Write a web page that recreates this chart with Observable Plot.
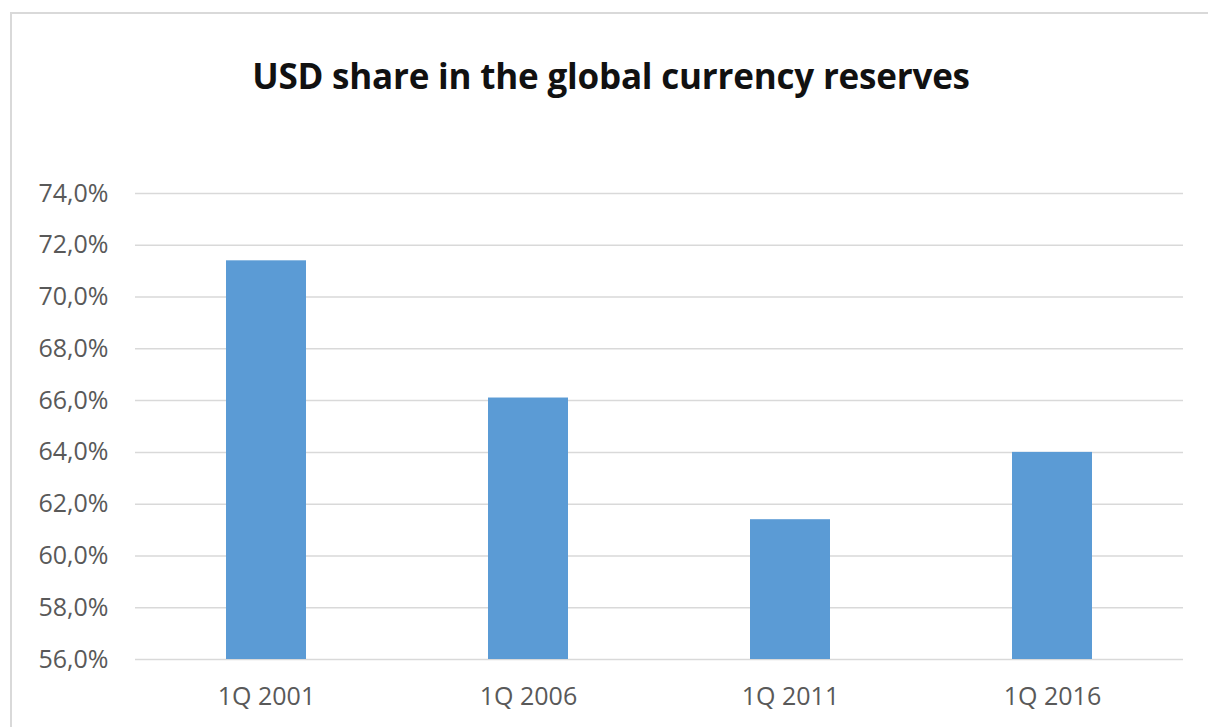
<!DOCTYPE html>
<html>
<head>
<meta charset="utf-8">
<script src="https://cdn.jsdelivr.net/npm/d3@7"></script>
<script src="https://cdn.jsdelivr.net/npm/@observablehq/plot@0.6"></script>
<style>
  html, body { margin: 0; padding: 0; background: #fff; }
  #wrap { position: relative; width: 1208px; height: 727px; overflow: hidden; background: #fff; }
  #frame { position: absolute; left: 10px; top: 12px; width: 1300px; height: 800px; border-left: 2px solid #d9d9d9; border-top: 2px solid #d9d9d9; box-sizing: border-box; }
  #title { position: absolute; left: 0; width: 1222px; top: 52px; text-align: center; font-family: "Open Sans", sans-serif; font-weight: 700; font-size: 35px; color: #111; letter-spacing: -0.2px; white-space: nowrap; }
  #chart { position: absolute; left: 0; top: 0; }
</style>
</head>
<body>
<div id="wrap">
  <div id="frame"></div>
  <div id="title">USD share in the global currency reserves</div>
  <div id="chart"></div>
</div>
<script>
const categories = ["1Q 2001", "1Q 2006", "1Q 2011", "1Q 2016"];
const usdShare = [71.4, 66.1, 61.4, 64.0];
const yTicks = [56, 58, 60, 62, 64, 66, 68, 70, 72, 74];

const data = categories.map((c, i) => ({category: c, value: usdShare[i]}));
const fmt = d => d.toFixed(1).replace(".", ",") + "%";

const plot = Plot.plot({
  width: 1208,
  height: 727,
  marginLeft: 135,
  marginRight: 25,
  marginTop: 193,
  marginBottom: 68,
  style: {fontFamily: "'Open Sans', sans-serif", fontSize: "25px", color: "#595959", background: "transparent"},
  x: {domain: categories, paddingInner: 0.695, paddingOuter: 0.3475, label: null},
  y: {domain: [56, 74], ticks: yTicks, label: null, tickFormat: fmt},
  marks: [
    Plot.ruleY(yTicks, {stroke: "#d9d9d9", strokeWidth: 1.5}),
    Plot.barY(data, {x: "category", y1: 56, y2: "value", fill: "#5b9bd5"}),
    Plot.axisY({ticks: yTicks, tickFormat: fmt, tickSize: 0, tickPadding: 27, fontSize: 25, fill: "#595959", label: null}),
    Plot.axisX({tickSize: 0, tickPadding: 28, fontSize: 25, fill: "#595959", label: null})
  ]
});
document.getElementById("chart").appendChild(plot);
</script>
</body>
</html>
